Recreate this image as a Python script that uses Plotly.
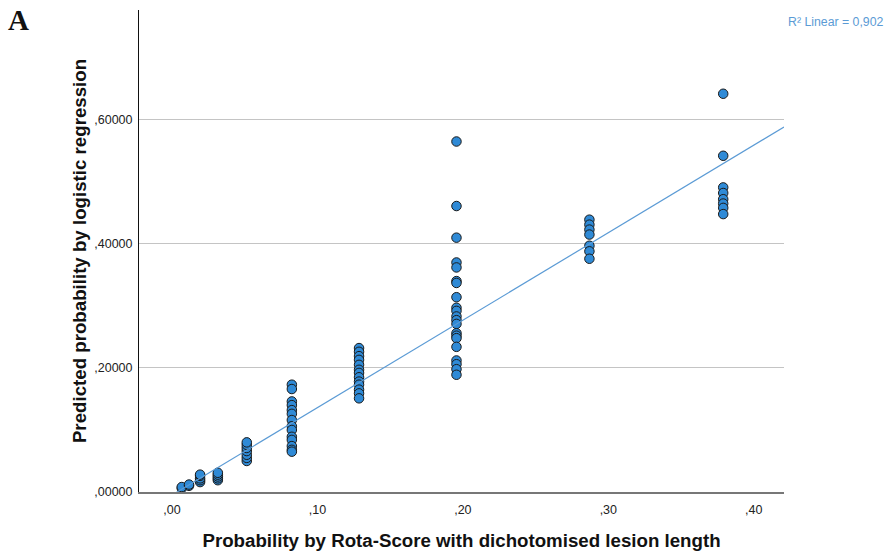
import plotly.graph_objects as go

# Rota-Score probability (x) clusters and predicted probabilities (y)
cluster_x = [0.0067, 0.0117, 0.0193, 0.0315, 0.0514, 0.0824, 0.1286, 0.1956, 0.287, 0.379]
cluster_y = [
    [0.006, 0.008],
    [0.010, 0.012],
    [0.016, 0.019, 0.022, 0.026, 0.028],
    [0.019, 0.022, 0.025, 0.028, 0.031],
    [0.050, 0.055, 0.060, 0.066, 0.071, 0.076, 0.080],
    [0.173, 0.166, 0.146, 0.140, 0.132, 0.126, 0.116, 0.106, 0.100, 0.089, 0.084, 0.074, 0.068, 0.065],
    [0.232, 0.226, 0.219, 0.213, 0.205, 0.197, 0.192, 0.185, 0.178, 0.173, 0.165, 0.159, 0.151],
    [0.565, 0.461, 0.410, 0.370, 0.362, 0.340, 0.337, 0.314, 0.297, 0.292, 0.283, 0.277, 0.271,
     0.256, 0.252, 0.248, 0.234, 0.212, 0.206, 0.198, 0.189],
    [0.439, 0.431, 0.423, 0.415, 0.397, 0.388, 0.376],
    [0.642, 0.542, 0.491, 0.482, 0.472, 0.465, 0.458, 0.448],
]

# linear fit
fit_slope = 1.41
fit_intercept = -0.005
fit_label = "R² Linear = 0,902"

x_range = [-0.0227, 0.4208]
y_range = [0.0, 0.777]

x_tickvals = [0.0, 0.1, 0.2, 0.3, 0.4]
x_ticktext = [",00", ",10", ",20", ",30", ",40"]
y_tickvals = [0.0, 0.2, 0.4, 0.6]
y_ticktext = [",00000", ",20000", ",40000", ",60000"]

xs, ys = [], []
for cx, cy in zip(cluster_x, cluster_y):
    for v in cy:
        xs.append(cx)
        ys.append(v)

fig = go.Figure()
fig.add_trace(go.Scatter(
    x=xs, y=ys, mode="markers", cliponaxis=False,
    marker=dict(size=9.5, color="#2f8ad6", line=dict(color="#1a1a1a", width=1)),
    showlegend=False,
))
fig.add_trace(go.Scatter(
    x=x_range, y=[fit_slope * v + fit_intercept for v in x_range],
    mode="lines", line=dict(color="#5b9bd5", width=1.2), showlegend=False,
))

font_family = "Liberation Sans, Arial, sans-serif"
fig.update_layout(
    width=887, height=554,
    margin=dict(l=139, r=103, t=10, b=62),
    paper_bgcolor="white", plot_bgcolor="white",
    font=dict(family=font_family, color="#222222", size=12.5),
    xaxis=dict(
        range=x_range, tickvals=x_tickvals, ticktext=x_ticktext,
        showgrid=False, zeroline=False, automargin=False,
        showline=True, linecolor="#777777", linewidth=1.5,
        ticks="", ticklabelstandoff=5,
        tickfont=dict(size=12.5, color="#222222"),
        title=dict(text="<b>Probability by Rota-Score with dichotomised lesion length</b>",
                   font=dict(size=18.7, color="#111111"), standoff=18),
    ),
    yaxis=dict(
        range=y_range, tickvals=y_tickvals, ticktext=y_ticktext,
        showgrid=True, gridcolor="#c4c4c4", gridwidth=1, zeroline=False, automargin=False,
        showline=True, linecolor="#111111", linewidth=1,
        ticks="", ticklabelstandoff=3,
        tickfont=dict(size=12.5, color="#222222"),
        title=dict(text="<b>Predicted probability by logistic regression</b>",
                   font=dict(size=18.7, color="#111111"), standoff=2),
    ),
    annotations=[
        dict(text="<b>A</b>", xref="paper", yref="paper", x=-139/644, y=1.0 - 10/482,
             xanchor="left", yanchor="middle", xshift=6, showarrow=False,
             font=dict(family="Liberation Serif, Times New Roman, serif", size=29, color="#111111")),
        dict(text=fit_label, xref="paper", yref="paper", x=1.0, y=1.0 - 12/482,
             xanchor="right", yanchor="middle", xshift=102, showarrow=False,
             font=dict(size=12.3, color="#5b9bd5")),
    ],
)

fig.write_html("out.html")
